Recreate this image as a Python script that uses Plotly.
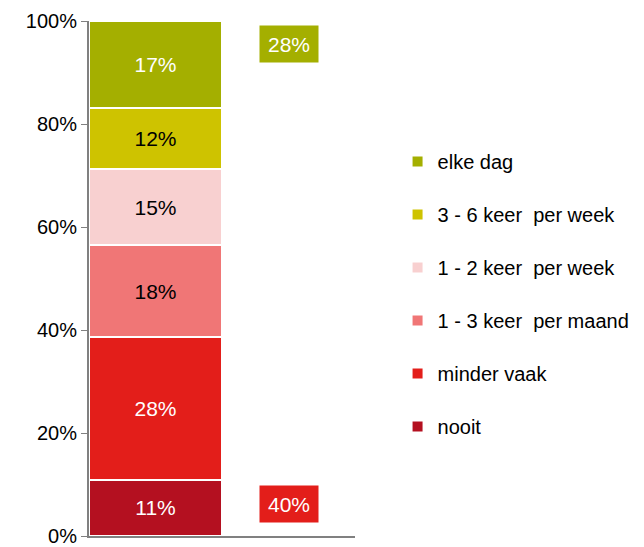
import plotly.graph_objects as go

# stacked shares, bottom to top
categories = ["nooit", "minder vaak", "1 - 3 keer  per maand", "1 - 2 keer  per week",
              "3 - 6 keer  per week", "elke dag"]
values = [11, 28, 18, 15, 12, 17]
colors = ["#B41020", "#E31E1A", "#F07676", "#F8D0D0", "#CEC300", "#A4AF00"]
text_colors = ["white", "white", "black", "black", "black", "white"]

# summary boxes on the right
box_labels = ["28%", "40%"]
box_y = [95.5, 6.3]
box_colors = ["#A4AF00", "#E31E1A"]

tick_vals = [0, 20, 40, 60, 80, 100]
tick_text = ["0%", "20%", "40%", "60%", "80%", "100%"]

FONT = "Liberation Sans, Arial, sans-serif"

fig = go.Figure()
for i in range(len(categories)):
    fig.add_trace(go.Bar(
        name=categories[i],
        x=[0],
        y=[values[i]],
        width=1,
        marker=dict(color=colors[i], line=dict(color="white", width=2)),
        text=[f"{values[i]}%"],
        textposition="inside",
        insidetextanchor="middle",
        textfont=dict(color=text_colors[i], size=21, family=FONT),
        legendgroup=categories[i],
        legendrank=len(categories) - i,
        hoverinfo="skip",
    ))

for lbl, yy, col in zip(box_labels, box_y, box_colors):
    fig.add_annotation(x=1, y=yy, xref="x", yref="y", text=lbl, showarrow=False,
                       bgcolor=col, width=56, height=34,
                       font=dict(color="white", size=21, family=FONT))

# page body adds an 8px offset, margins are set with that in mind
fig.update_layout(
    width=644, height=547,
    barmode="stack", barnorm="percent",
    plot_bgcolor="white", paper_bgcolor="white",
    margin=dict(l=81, r=297, t=13, b=19, autoexpand=False),
    font=dict(family=FONT, size=20, color="black"),
    showlegend=True,
    legend=dict(x=1.16, y=0.765, xanchor="left", yanchor="top",
                traceorder="grouped", tracegroupgap=24,
                font=dict(size=20, family=FONT)),
    xaxis=dict(type="linear", range=[-0.5, 1.5], showticklabels=False, showgrid=False,
               zeroline=False, showline=True, linecolor="#808080", linewidth=2, ticks="",
               automargin=False),
    yaxis=dict(range=[0, 100], tickvals=tick_vals, ticktext=tick_text,
               showgrid=False, zeroline=False, showline=True, linecolor="#808080",
               linewidth=2, ticks="outside", ticklen=6, tickcolor="#808080",
               tickfont=dict(size=20, family=FONT), automargin=False),
)

fig.write_html("out.html")
